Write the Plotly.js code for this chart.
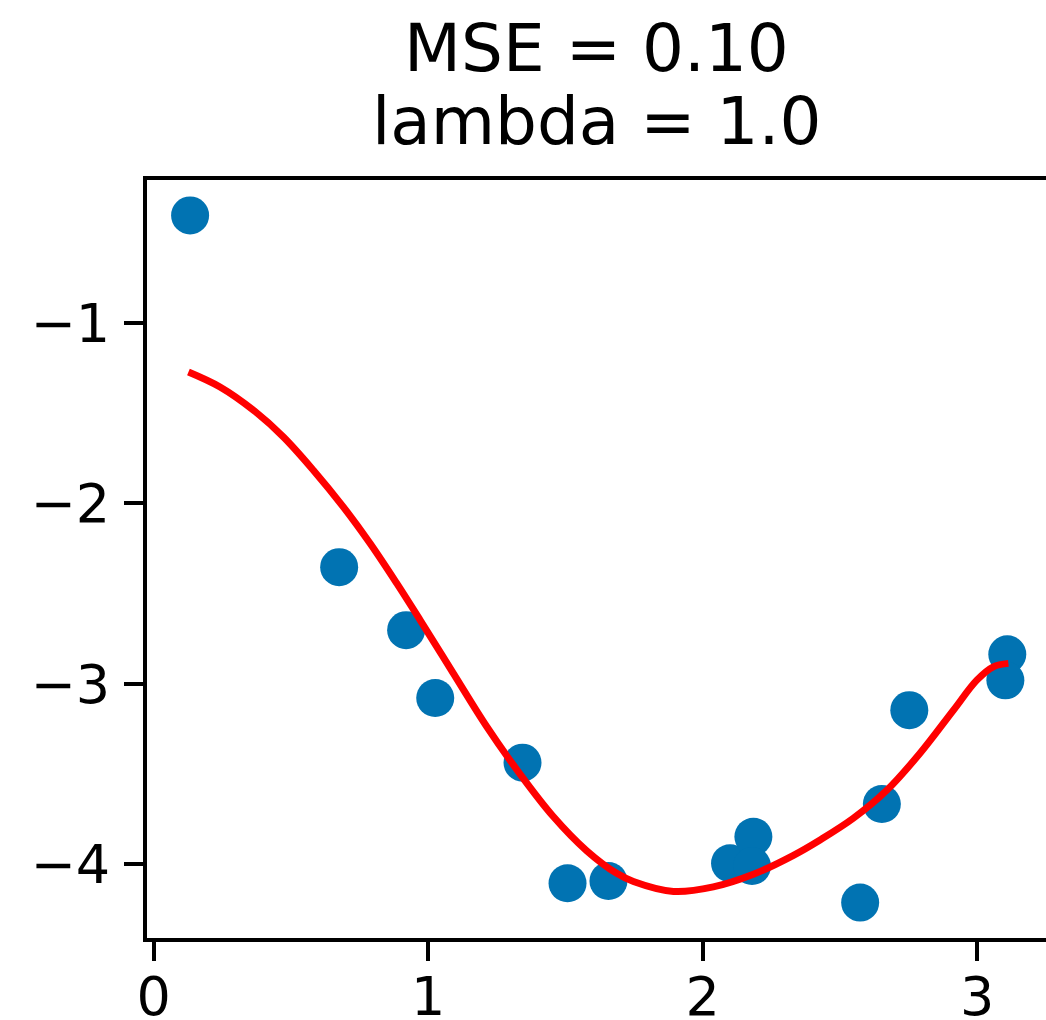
<!DOCTYPE html>
<html>
<head>
<meta charset="utf-8">
<script src="https://cdn.plot.ly/plotly-3.0.1.min.js"></script>
<style>html,body{margin:0;padding:0;background:#fff;}#chart{width:1046px;height:1020px;}</style>
</head>
<body>
<div id="chart"></div>
<script>
// Scatter data (observed samples)
const pointX = [0.133, 0.676, 0.920, 1.026, 1.344, 1.508, 1.657, 2.100, 2.185, 2.180, 2.574, 2.653, 2.753, 3.110, 3.103];
const pointY = [-0.406, -2.354, -2.703, -3.079, -3.437, -4.105, -4.092, -3.994, -3.847, -4.009, -4.212, -3.666, -3.146, -2.837, -2.981];

// Fitted curve
const curveX = [0.127, 0.242, 0.364, 0.473, 0.582, 0.691, 0.789, 0.886, 0.971, 1.092, 1.214, 1.335, 1.456, 1.578, 1.687, 1.748, 1.894, 2.039, 2.185, 2.331, 2.428, 2.549, 2.671, 2.792, 2.914, 2.999, 3.059, 3.114];
const curveY = [-1.273, -1.356, -1.485, -1.633, -1.817, -2.020, -2.223, -2.444, -2.647, -2.942, -3.238, -3.500, -3.735, -3.925, -4.050, -4.095, -4.150, -4.125, -4.055, -3.950, -3.865, -3.745, -3.590, -3.385, -3.146, -2.980, -2.906, -2.887];

const titleLine1 = 'MSE = 0.10';
const titleLine2 = 'lambda = 1.0';
const xTicks = [0, 1, 2, 3];
const yTicks = [-4, -3, -2, -1];

const font = 'DejaVu Sans, sans-serif';

const traces = [
  {
    x: pointX, y: pointY, type: 'scatter', mode: 'markers',
    marker: {size: 38, color: '#0173B2', line: {width: 0}},
    hoverinfo: 'skip', showlegend: false
  },
  {
    x: curveX, y: curveY, type: 'scatter', mode: 'lines',
    line: {color: '#ff0000', width: 7, shape: 'spline', smoothing: 1},
    hoverinfo: 'skip', showlegend: false
  }
];

const axisCommon = {
  showgrid: false, zeroline: false,
  showline: true, linecolor: '#000', linewidth: 4, mirror: true,
  ticks: 'outside', ticklen: 19, tickwidth: 4, tickcolor: '#000',
  tickfont: {family: font, size: 54, color: '#000'},
  tickmode: 'array'
};

const layout = {
  width: 1046, height: 1020,
  margin: {l: 147, r: 0, t: 180, b: 82, pad: 0},
  paper_bgcolor: '#fff', plot_bgcolor: '#fff',
  showlegend: false,
  title: {
    text: titleLine1, font: {family: font, size: 66, color: '#000'},
    x: 0.5, xref: 'paper', xanchor: 'center',
    y: 1 - 48 / 1020, yref: 'container', yanchor: 'middle'
  },
  annotations: [{
    text: titleLine2, showarrow: false,
    font: {family: font, size: 66, color: '#000'},
    xref: 'paper', x: 0.5, xanchor: 'center',
    yref: 'paper', y: (938 - 122) / 758, yanchor: 'middle'
  }],
  xaxis: Object.assign({}, axisCommon, {
    range: [-0.024, 3.251], tickvals: xTicks, ticktext: xTicks.map(String),
    ticklabelstandoff: -11
  }),
  yaxis: Object.assign({}, axisCommon, {
    range: [-4.408, -0.21], tickvals: yTicks, ticktext: yTicks.map(v => '\u2212' + Math.abs(v)),
    ticklabelstandoff: 3
  })
};

Plotly.newPlot('chart', traces, layout, {staticPlot: true, displayModeBar: false});
</script>
</body>
</html>
